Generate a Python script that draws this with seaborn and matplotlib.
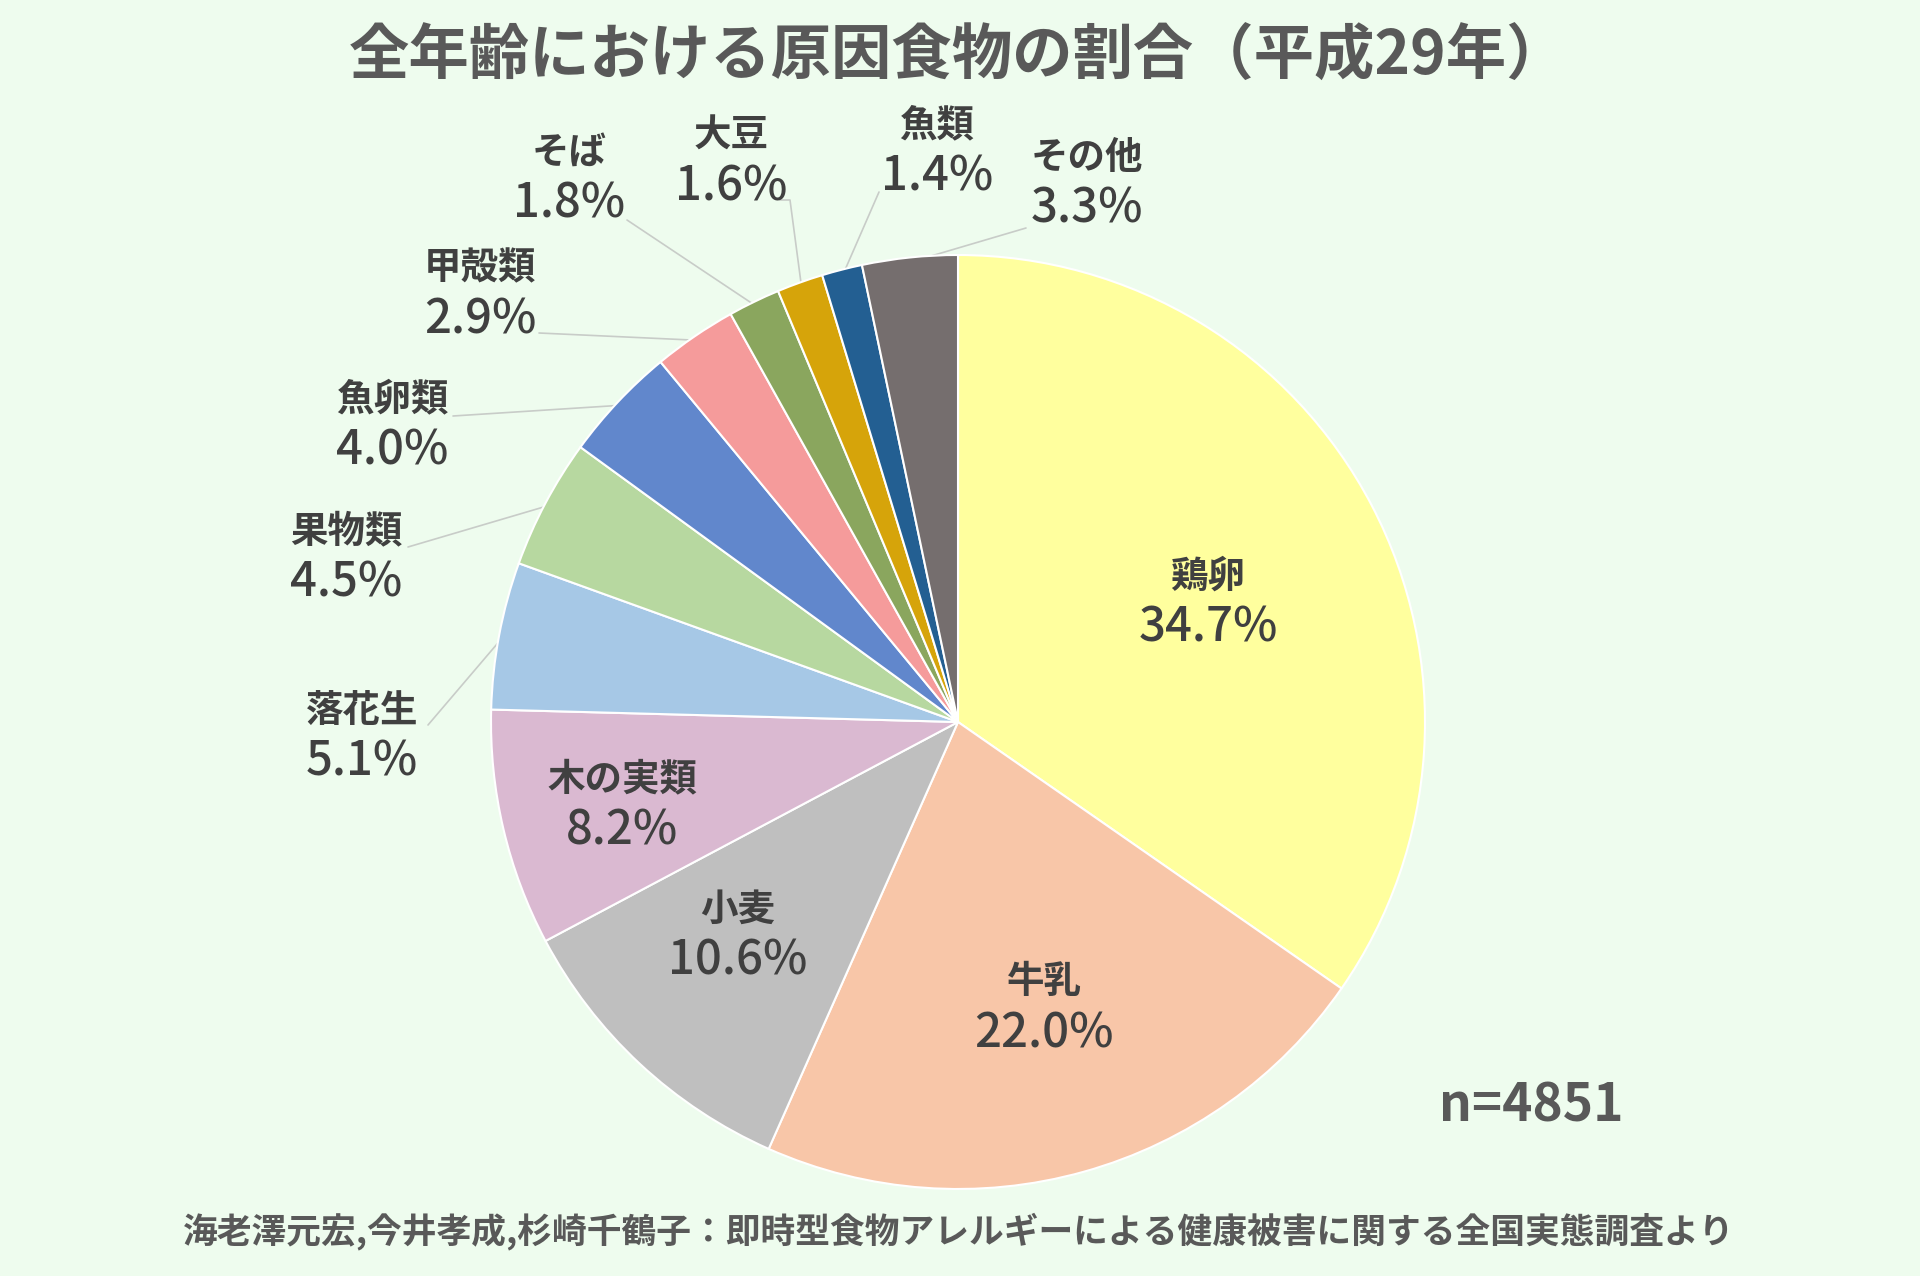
import numpy as np
import matplotlib
matplotlib.use("Agg")
import matplotlib.pyplot as plt
import seaborn as sns

sns.set_theme(style="white")
plt.rcParams['font.family'] = ['Noto Sans CJK JP', 'DejaVu Sans']

# ---- data ----
categories = ["鶏卵", "牛乳", "小麦", "木の実類", "落花生", "果物類",
              "魚卵類", "甲殻類", "そば", "大豆", "魚類", "その他"]
values = [34.7, 22.0, 10.6, 8.2, 5.1, 4.5, 4.0, 2.9, 1.8, 1.6, 1.4, 3.3]
colors = ["#FFFF9E", "#F8C6A8", "#BFBFBF", "#DAB9D1", "#A6C8E6", "#B7D8A0",
          "#6187CC", "#F59B9B", "#8AA65E", "#D6A40A", "#235F92", "#756E6E"]
title = "全年齢における原因食物の割合（平成29年）"
n_text = "n=4851"
source = "海老澤元宏,今井孝成,杉崎千鶴子：即時型食物アレルギーによる健康被害に関する全国実態調査より"

# ---- layout (pixel coords, y measured from top) ----
W, H = 1920, 1276
BG = "#EEFCEE"
cx, cy, R = 958, 722, 467

label_pos = {
    "鶏卵": (1208, 576), "牛乳": (1044, 982), "小麦": (738, 909),
    "木の実類": (622, 779), "落花生": (362, 710), "果物類": (346, 531),
    "魚卵類": (392, 399), "甲殻類": (480, 268), "そば": (569, 152),
    "大豆": (731, 135), "魚類": (937, 125), "その他": (1087, 157),
}
pct_gap = 52
leader = {
    "その他": [(1026, 228)],
    "魚類": [(879, 192)],
    "大豆": [(780, 200), (790, 200)],
    "そば": [(627, 220)],
    "甲殻類": [(539, 333)],
    "魚卵類": [(453, 416)],
    "果物類": [(408, 547)],
    "落花生": [(428, 725)],
}

fig = plt.figure(figsize=(W / 100, H / 100), dpi=100, facecolor=BG)
ax = fig.add_axes([0, 0, 1, 1])
ax.set_facecolor(BG)

ax.pie(values, colors=colors, startangle=90, counterclock=False,
       center=(cx, H - cy), radius=R,
       wedgeprops=dict(edgecolor="white", linewidth=1.5))
ax.set_xlim(0, W)
ax.set_ylim(0, H)
ax.set_aspect("equal")
ax.axis("off")

txt_col = "#404040"
total = sum(values)
cum = 0.0
for cat, v in zip(categories, values):
    mid = (cum + v / 2) / total
    cum += v
    x, y = label_pos[cat]
    ax.text(x, H - y, cat, ha="center", va="center", fontsize=27,
            fontweight="bold", color=txt_col)
    ax.text(x, H - y - pct_gap, f"{v:.1f}%", ha="center", va="center",
            fontsize=34, fontweight="medium", color=txt_col)
    if cat in leader:
        ang = np.deg2rad(90 - 360 * mid)
        ex = cx + R * 0.99 * np.cos(ang)
        ey = (H - cy) + R * 0.99 * np.sin(ang)
        pts = leader[cat] + [(ex, cy - (ey - (H - cy)))]
        xs = [p[0] for p in pts]
        ys = [H - p[1] for p in pts]
        ax.plot(xs, ys, color="#C8CCC8", linewidth=1.2, zorder=0.5)

ax.text(958, H - 57, title, ha="center", va="center", fontsize=43.5,
        fontweight="bold", color="#595959")
ax.text(1531, H - 1106, n_text, ha="center", va="center", fontsize=37,
        fontweight="bold", color="#595959")
ax.text(959, H - 1231, source, ha="center", va="center", fontsize=25,
        fontweight="bold", color="#595959")

fig.savefig("out.png", dpi=100, facecolor=BG)
